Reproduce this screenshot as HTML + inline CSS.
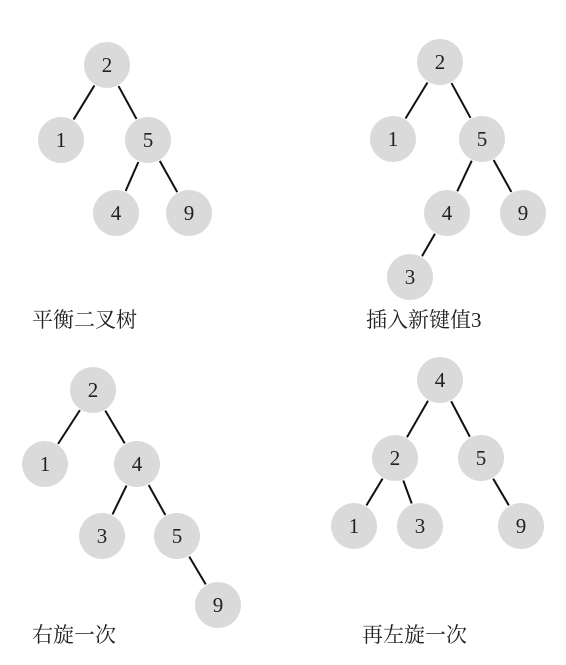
<!DOCTYPE html>
<html><head><meta charset="utf-8"><style>
html,body{margin:0;padding:0;background:#fff;}
svg{display:block;}
text{font-family:"Liberation Serif","Noto Serif CJK SC",serif;fill:#222;}
</style></head><body>
<svg width="566" height="665" viewBox="0 0 566 665" xmlns="http://www.w3.org/2000/svg">
<g id="root"></g>
</svg>
<script>
const trees = [
  {name:'balanced-tree', label:'平衡二叉树', lx:32, ly:327,
   nodes:[['2',107,65],['1',61,140],['5',148,140],['4',116,213],['9',189,213]],
   edges:[[0,1],[0,2],[2,3],[2,4]]},
  {name:'inserted-tree', label:'插入新键值3', lx:366, ly:327,
   nodes:[['2',440,62],['1',393,139],['5',482,139],['4',447,213],['9',523,213],['3',410,277]],
   edges:[[0,1],[0,2],[2,3],[2,4],[3,5]]},
  {name:'right-rotated-tree', label:'右旋一次', lx:32, ly:642,
   nodes:[['2',93,390],['1',45,464],['4',137,464],['3',102,536],['5',177,536],['9',218,605]],
   edges:[[0,1],[0,2],[2,3],[2,4],[4,5]]},
  {name:'left-rotated-tree', label:'再左旋一次', lx:362, ly:642,
   nodes:[['4',440,380],['2',395,458],['5',481,458],['1',354,526],['3',420,526],['9',521,526]],
   edges:[[0,1],[0,2],[1,3],[1,4],[2,5]]}
];
const NS='http://www.w3.org/2000/svg';
const root=document.getElementById('root');
const R=23;
trees.forEach(t=>{
  const g=document.createElementNS(NS,'g');
  
  
  t.edges.forEach(([a,b])=>{
    const [,x1,y1]=t.nodes[a],[,x2,y2]=t.nodes[b];
    const dx=x2-x1,dy=y2-y1,d=Math.hypot(dx,dy),ux=dx/d,uy=dy/d,o=R+1;
    const l=document.createElementNS(NS,'line');
    
    
    l.setAttribute('x1',x1+ux*o);l.setAttribute('y1',y1+uy*o);
    l.setAttribute('x2',x2-ux*o);l.setAttribute('y2',y2-uy*o);
    l.setAttribute('stroke','#111');l.setAttribute('stroke-width','2');
    g.appendChild(l);
  });
  t.nodes.forEach(([v,x,y])=>{
    const c=document.createElementNS(NS,'circle');
    
    
    c.setAttribute('cx',x);c.setAttribute('cy',y);c.setAttribute('r',R);
    c.setAttribute('fill','#dadada');
    g.appendChild(c);
    const tx=document.createElementNS(NS,'text');
    
    
    tx.setAttribute('x',x);tx.setAttribute('y',y+7);
    tx.setAttribute('text-anchor','middle');tx.setAttribute('font-size','21');
    tx.textContent=v;
    g.appendChild(tx);
  });
  const lb=document.createElementNS(NS,'text');
  
  
  lb.setAttribute('x',t.lx);lb.setAttribute('y',t.ly);
  lb.setAttribute('font-size','21');
  lb.textContent=t.label;
  g.appendChild(lb);
  root.appendChild(g);
});
</script>
</body></html>
